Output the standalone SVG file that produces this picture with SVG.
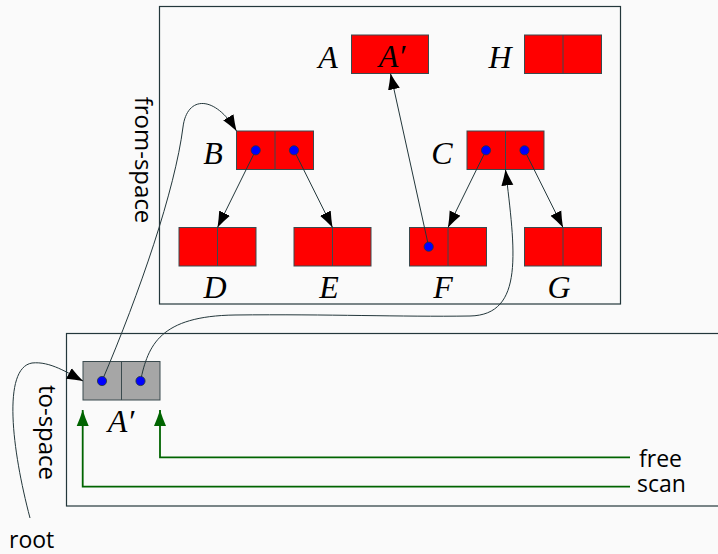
<svg xmlns="http://www.w3.org/2000/svg" width="718" height="554" viewBox="0 0 718 554">
  <defs>
    <style>
      .bg { fill: #fafafa; }
      .space { fill: none; stroke: #23373b; stroke-width: 1.2; }
      .cell { fill: #ff0000; stroke: #3a4a4e; stroke-width: 1; }
      .gcell { fill: #a6a6a6; stroke: #3a4a4e; stroke-width: 1; }
      .div { stroke: #3a4a4e; stroke-width: 1; }
      .dot { fill: #0000ff; stroke: #23373b; stroke-width: 0.8; }
      .edge { fill: none; stroke: #23373b; stroke-width: 1; }
      .gedge { fill: none; stroke: #006400; stroke-width: 1.8; }
      .math { font-family: "Liberation Serif", "DejaVu Serif", serif; font-style: italic; font-size: 32px; fill: #000; }
      .sans { font-family: "Open Sans", "Noto Sans", "DejaVu Sans", sans-serif; font-size: 24px; fill: #000; }
      .lab { font-family: "Open Sans", "Noto Sans", "DejaVu Sans", sans-serif; font-size: 23px; fill: #000; }
    </style>
    <marker id="ah" markerUnits="userSpaceOnUse" markerWidth="17" markerHeight="13" refX="16" refY="6.5" orient="auto">
      <path d="M0,0.5 Q8,4 16,6.5 Q8,9 0,12.5 Z" fill="#000"/>
    </marker>
    <marker id="gh" markerUnits="userSpaceOnUse" markerWidth="17" markerHeight="13" refX="16" refY="6.5" orient="auto">
      <path d="M0,0.5 Q8,4 16,6.5 Q8,9 0,12.5 Z" fill="#006400"/>
    </marker>
  </defs>

  <rect class="bg" x="0" y="0" width="718" height="554"/>

  <g id="from-space">
    <rect class="space" x="159.5" y="6.5" width="461" height="297.5"/>
    <text class="sans" transform="translate(134.5,160) rotate(90)" text-anchor="middle">from-space</text>
  </g>

  <g id="to-space">
    <rect class="space" x="66.5" y="333.5" width="700" height="172.5"/>
    <text class="sans" transform="translate(38.5,432.5) rotate(90)" text-anchor="middle">to-space</text>
  </g>

  <g id="node-A">
    <text class="math" x="328" y="68" text-anchor="middle">A</text>
    <rect class="cell" x="351.5" y="35" width="77" height="38.5"/>
    <text class="math" x="392" y="67" text-anchor="middle">A′</text>
  </g>

  <g id="node-H">
    <text class="math" x="500" y="68" text-anchor="middle">H</text>
    <rect class="cell" x="524.5" y="35" width="77" height="38.5"/>
    <line class="div" x1="563" y1="35" x2="563" y2="73.5"/>
  </g>

  <g id="node-B">
    <text class="math" x="213" y="164" text-anchor="middle">B</text>
    <rect class="cell" x="236.5" y="131" width="77" height="38.5"/>
    <line class="div" x1="275" y1="131" x2="275" y2="169.5"/>
  </g>

  <g id="node-C">
    <text class="math" x="442" y="164" text-anchor="middle">C</text>
    <rect class="cell" x="467" y="131" width="77" height="38.5"/>
    <line class="div" x1="505.5" y1="131" x2="505.5" y2="169.5"/>
  </g>

  <g id="node-D">
    <rect class="cell" x="179" y="227.5" width="77" height="38.5"/>
    <line class="div" x1="217.5" y1="227.5" x2="217.5" y2="266"/>
    <text class="math" x="215" y="297.5" text-anchor="middle">D</text>
  </g>

  <g id="node-E">
    <rect class="cell" x="294" y="227.5" width="77" height="38.5"/>
    <line class="div" x1="332.5" y1="227.5" x2="332.5" y2="266"/>
    <text class="math" x="329" y="297.5" text-anchor="middle">E</text>
  </g>

  <g id="node-F">
    <rect class="cell" x="409.5" y="227.5" width="77" height="38.5"/>
    <line class="div" x1="448" y1="227.5" x2="448" y2="266"/>
    <text class="math" x="443" y="297.5" text-anchor="middle">F</text>
  </g>

  <g id="node-G">
    <rect class="cell" x="524.5" y="227.5" width="77" height="38.5"/>
    <line class="div" x1="563" y1="227.5" x2="563" y2="266"/>
    <text class="math" x="559" y="297.5" text-anchor="middle">G</text>
  </g>

  <g id="node-A-copy">
    <rect class="gcell" x="83" y="361.5" width="77" height="38.5"/>
    <line class="div" x1="121.5" y1="361.5" x2="121.5" y2="400"/>
    <text class="math" x="121" y="431.5" text-anchor="middle">A′</text>
  </g>

  <g id="label-root">
    <text class="lab" x="9" y="548">root</text>
  </g>
  <g id="label-free">
    <text class="lab" x="639" y="467">free</text>
  </g>
  <g id="label-scan">
    <text class="lab" x="637" y="491.5">scan</text>
  </g>

  <g id="connectors">
    <line class="edge" x1="255.7" y1="150.3" x2="217.5" y2="227.5" marker-end="url(#ah)"/>
    <line class="edge" x1="294" y1="150.3" x2="332.5" y2="227.5" marker-end="url(#ah)"/>
    <line class="edge" x1="486" y1="150.3" x2="448" y2="227.5" marker-end="url(#ah)"/>
    <line class="edge" x1="524.5" y1="150.3" x2="563" y2="227.5" marker-end="url(#ah)"/>
    <line class="edge" x1="428.7" y1="246.7" x2="390.5" y2="73.5" marker-end="url(#ah)"/>
    <path class="edge" d="M102,381 C140,292 175,190 183,127 C187,95 215,95 236.5,131" marker-end="url(#ah)"/>
    <path class="edge" d="M140.5,381 C148,345 160,316 235,315 C330,314 400,317 470,316 C525,315 515,250 505.5,169.5" marker-end="url(#ah)"/>
    <path class="edge" d="M30,518 C12,450 2,368 32,363 C50,361 68,373 83,381" marker-end="url(#ah)"/>
    <path class="gedge" d="M630,457.3 L160,457.3 L160,410" marker-end="url(#gh)"/>
    <path class="gedge" d="M630,486.7 L82.7,486.7 L82.7,410" marker-end="url(#gh)"/>
  </g>

  <g id="pointers">
    <circle class="dot" cx="255.7" cy="150.3" r="4.6"/>
    <circle class="dot" cx="294" cy="150.3" r="4.6"/>
    <circle class="dot" cx="486" cy="150.3" r="4.6"/>
    <circle class="dot" cx="524.5" cy="150.3" r="4.6"/>
    <circle class="dot" cx="428.7" cy="246.7" r="4.6"/>
    <circle class="dot" cx="102" cy="381" r="4.6"/>
    <circle class="dot" cx="140.5" cy="381" r="4.6"/>
  </g>
</svg>
